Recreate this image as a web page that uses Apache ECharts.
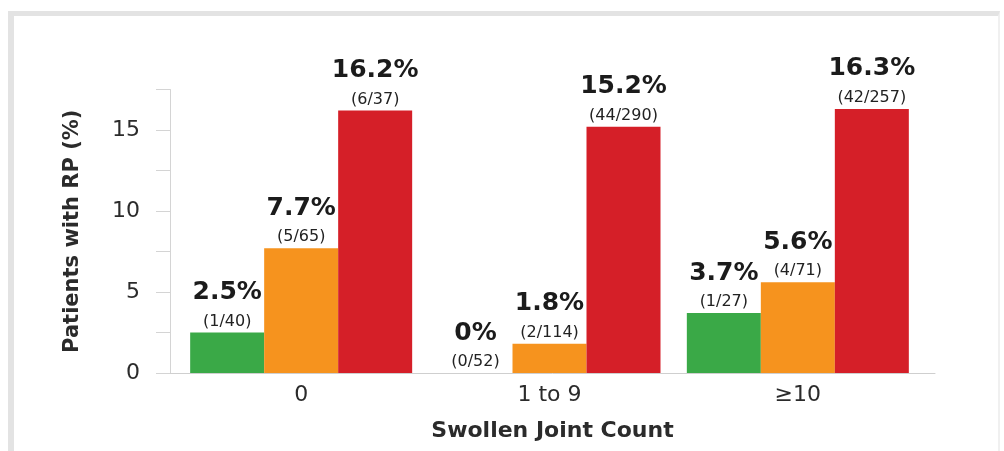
<!DOCTYPE html>
<html>
<head>
<meta charset="utf-8">
<script src="https://cdn.jsdelivr.net/npm/echarts@6/dist/echarts.min.js"></script>
<style>
  html, body { margin: 0; padding: 0; background: #ffffff; }
  #wrap { position: relative; width: 1004px; height: 451px; overflow: hidden; }
  #frame {
    position: absolute; left: 8px; top: 11px; width: 984px; height: 460px;
    border-left: 6px solid #e3e3e3; border-top: 5px solid #e3e3e3; border-right: 2px solid #f0f0f0;
  }
  #chart { position: absolute; left: 0; top: 0; width: 1004px; height: 451px; }
</style>
</head>
<body>
<div id="wrap">
  <div id="frame"></div>
  <div id="chart"></div>
</div>
<script>
// Swollen joint count groups
const categories = ['0', '1 to 9', '\u226510'];

// Percent of patients with RP, one array per colour group
const greenPct  = [2.5, 0, 3.7];
const orangePct = [7.7, 1.8, 5.6];
const redPct    = [16.2, 15.2, 16.3];

// Patients with RP / patients in group
const greenCounts  = ['1/40', '0/52', '1/27'];
const orangeCounts = ['5/65', '2/114', '4/71'];
const redCounts    = ['6/37', '44/290', '42/257'];

// Y axis ticks every 2.5, labelled every 5
const yMin = 0, yMax = 17.5, yStep = 2.5;

const FONT = 'DejaVu Sans';

function pctText(v) {
  return v === 0 ? '0%' : v.toFixed(1) + '%';
}

function barSeries(name, values, counts, color) {
  return {
    name: name,
    type: 'bar',
    xAxisIndex: 0,
    yAxisIndex: 0,
    data: values,
    barWidth: 74,
    barGap: '0%',
    itemStyle: { color: color },
    label: {
      show: true,
      position: 'top',
      distance: 2,
      fontFamily: FONT,
      formatter: function (p) {
        return '{p|' + pctText(values[p.dataIndex]) + '}\n{n|(' + counts[p.dataIndex] + ')}';
      },
      rich: {
        p: { fontFamily: FONT, fontSize: 25, fontWeight: 'bold', color: '#1b1b1b', lineHeight: 40, align: 'center' },
        n: { fontFamily: FONT, fontSize: 16, color: '#222222', lineHeight: 18, align: 'center' }
      }
    }
  };
}

const chart = echarts.init(document.getElementById('chart'), null, { renderer: 'canvas' });

chart.setOption({
  animation: false,
  backgroundColor: 'transparent',
  grid: [
    { left: 177, right: 82, top: 89.5, bottom: 78 },
    { left: 170, right: 69, top: 89.5, bottom: 78 }
  ],
  xAxis: [
    {
      type: 'category',
      gridIndex: 0,
      data: categories,
      axisLine: { show: false },
      axisTick: { show: false },
      axisLabel: { fontFamily: FONT, fontSize: 22, color: '#2b2b2b', margin: 11 }
    },
    {
      type: 'value',
      gridIndex: 1,
      min: 0,
      max: 1,
      axisLine: { show: true, lineStyle: { color: '#cfcfcf', width: 1 } },
      axisTick: { show: false },
      axisLabel: { show: false },
      splitLine: { show: false },
      name: 'Swollen Joint Count',
      nameLocation: 'middle',
      nameGap: 47,
      nameTextStyle: { fontFamily: FONT, fontSize: 22, fontWeight: 'bold', color: '#2b2b2b' }
    }
  ],
  yAxis: [
    {
      type: 'value',
      gridIndex: 0,
      min: yMin,
      max: yMax,
      interval: yStep,
      offset: 7,
      axisLine: { show: true, lineStyle: { color: '#d4d4d4', width: 1 } },
      axisTick: { show: true, length: 14, lineStyle: { color: '#d4d4d4' } },
      axisLabel: {
        fontFamily: FONT, fontSize: 22, color: '#2b2b2b', margin: 30,
        formatter: function (v) { return (v % 5 === 0 && v <= 15) ? String(v) : ''; }
      },
      splitLine: { show: false },
      name: 'Patients with RP (%)',
      nameLocation: 'middle',
      nameGap: 87,
      nameTextStyle: { fontFamily: FONT, fontSize: 21, fontWeight: 'bold', color: '#2b2b2b' }
    },
    {
      type: 'value',
      gridIndex: 1,
      show: false
    }
  ],
  series: [
    barSeries('green', greenPct, greenCounts, '#3aa947'),
    barSeries('orange', orangePct, orangeCounts, '#f6931e'),
    barSeries('red', redPct, redCounts, '#d51f28')
  ]
});
</script>
</body>
</html>
